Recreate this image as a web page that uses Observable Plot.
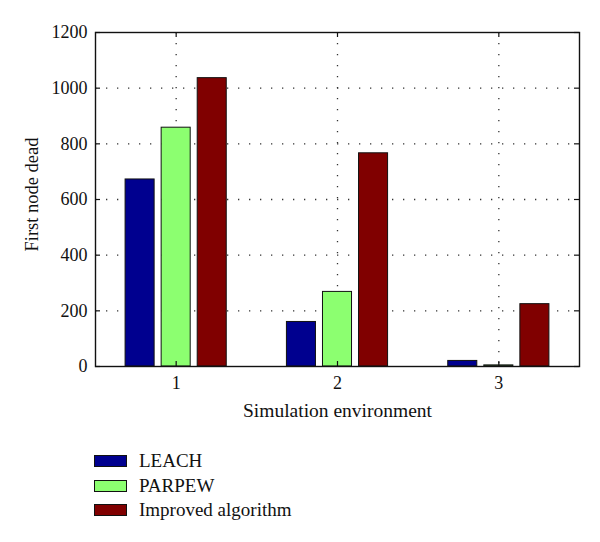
<!DOCTYPE html>
<html>
<head>
<meta charset="utf-8">
<script src="https://cdn.jsdelivr.net/npm/d3@7"></script>
<script src="https://cdn.jsdelivr.net/npm/@observablehq/plot@0.6"></script>
<style>
  body { margin: 0; background: #fff; }
  #wrap { position: relative; width: 600px; height: 542px; font-family: "Liberation Serif", "DejaVu Serif", serif; }
  .leg { position: absolute; left: 94px; display: flex; align-items: center; font-size: 19px; color: #111; }
  .sw { width: 31px; height: 10px; border: 1px solid #111; margin-right: 12px; }
</style>
</head>
<body>
<div id="wrap"></div>
<script>
// ---- data ----
const environments = [1, 2, 3];
const seriesNames = ["LEACH", "PARPEW", "Improved algorithm"];
const leach = [672, 160, 20];
const parpew = [858, 268, 4];
const improved = [1036, 766, 224];
const yTicks = [0, 200, 400, 600, 800, 1000, 1200];
const gridYTicks = [200, 400, 600, 800, 1000];
const seriesColors = ["#00008f", "#8cff70", "#800000"];

const seriesValues = [leach, parpew, improved];
const rows = [];
seriesValues.forEach((vals, k) => {
  vals.forEach((v, i) => rows.push({ env: environments[i], k, series: seriesNames[k], value: v }));
});

const step = 0.2235;   // distance between bar centres within a group (x units)
const half = 0.09;     // half bar width (x units)

const W = 600, H = 430;
const mL = 95, mR = 21, mT = 32, mB = 64;
const fw = W - mL - mR, fh = H - mT - mB;

const chart = Plot.plot({
  width: W,
  height: H,
  marginLeft: mL,
  marginRight: mR,
  marginTop: mT,
  marginBottom: mB,
  style: { fontFamily: "Liberation Serif, DejaVu Serif, serif", fontSize: "18px", color: "#111", background: "#fff" },
  x: { type: "linear", domain: [0.5, 3.5], axis: null },
  y: { domain: [0, 1200], axis: null },
  color: { domain: seriesNames, range: seriesColors },
  marks: [
    Plot.gridY(gridYTicks, { stroke: "#333", strokeOpacity: 1, strokeWidth: 1.3, strokeDasharray: "1.3,9.7" }),
    Plot.gridX(environments, { stroke: "#333", strokeOpacity: 1, strokeWidth: 1.3, strokeDasharray: "1.3,9.7" }),
    Plot.rectY(rows, {
      x1: d => d.env + (d.k - 1) * step - half,
      x2: d => d.env + (d.k - 1) * step + half,
      y1: 0,
      y2: "value",
      fill: "series",
      stroke: "#111",
      strokeWidth: 1
    }),
    // inward ticks
    Plot.tickY(yTicks, { y: d => d, insetRight: fw - 5, stroke: "#111", strokeWidth: 1.2 }),
    Plot.tickY(yTicks, { y: d => d, insetLeft: fw - 5, stroke: "#111", strokeWidth: 1.2 }),
    Plot.tickX(environments, { x: d => d, insetBottom: fh - 5, stroke: "#111", strokeWidth: 1.2 }),
    Plot.tickX(environments, { x: d => d, insetTop: fh - 5, stroke: "#111", strokeWidth: 1.2 }),
    Plot.frame({ stroke: "#111", strokeWidth: 1.4 }),
    Plot.axisY(yTicks, { tickSize: 0, tickPadding: 8, label: null, fontSize: 18, tickFormat: d => String(d) }),
    Plot.axisX(environments, { tickSize: 0, tickPadding: 10, label: null, fontSize: 18, tickFormat: d => String(d) }),
    Plot.text(["Simulation environment"], { frameAnchor: "bottom", dy: 50, fontSize: 19.5, fill: "#111" }),
    Plot.text(["First node dead"], { frameAnchor: "left", textAnchor: "middle", dx: -63, dy: -5, rotate: -90, fontSize: 18.5, fill: "#111" })
  ]
});

const wrap = document.getElementById("wrap");
chart.style.position = "absolute";
chart.style.left = "0px";
chart.style.top = "0px";
wrap.appendChild(chart);

const legendTops = [455, 479.5, 504];
seriesNames.forEach((name, k) => {
  const row = document.createElement("div");
  row.className = "leg";
  row.style.top = (legendTops[k] - 7) + "px";
  row.style.height = "26px";
  const sw = document.createElement("div");
  sw.className = "sw";
  sw.style.background = seriesColors[k];
  const t = document.createElement("span");
  t.textContent = name;
  row.appendChild(sw);
  row.appendChild(t);
  wrap.appendChild(row);
});
</script>
</body>
</html>
